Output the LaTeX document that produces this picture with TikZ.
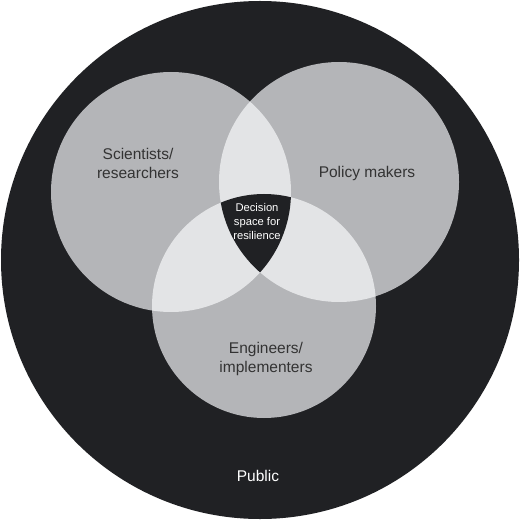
\documentclass[tikz,border=0pt]{standalone}
\usepackage{fontspec}
\setmainfont{Liberation Sans}
\definecolor{bgdark}{HTML}{202124}
\definecolor{ringgray}{HTML}{B4B5B8}
\definecolor{overlapgray}{HTML}{E3E4E6}
\definecolor{labeltext}{HTML}{333333}
\tikzset{
  grouplabel/.style={align=center, text=labeltext, inner sep=0pt, font=\fontsize{15.5}{19}\selectfont},
  corelabel/.style={align=center, text=white, inner sep=0pt, font=\fontsize{11.2}{14}\selectfont},
  publiclabel/.style={align=center, text=white, inner sep=0pt, font=\fontsize{15.5}{19}\selectfont}
}
\begin{document}
\begin{tikzpicture}[x=1pt,y=-1pt]
\useasboundingbox (0,0) rectangle (520,521);
\fill[white] (0,0) rectangle (520,521);
\coordinate (C) at (260,260);
\coordinate (L) at (171,192);
\coordinate (R) at (339,182);
\coordinate (B) at (264,306);
\fill[bgdark] (C) circle (259);
\fill[ringgray] (L) circle (120);
\fill[ringgray] (R) circle (120);
\fill[ringgray] (B) circle (112);
\begin{scope}
  \clip (L) circle (120);
  \fill[overlapgray] (R) circle (120);
  \fill[overlapgray] (B) circle (112);
\end{scope}
\begin{scope}
  \clip (R) circle (120);
  \fill[overlapgray] (B) circle (112);
\end{scope}
\begin{scope}
  \clip (L) circle (120);
  \clip (R) circle (120);
  \fill[bgdark] (B) circle (112);
\end{scope}
\node[grouplabel] (sci) at (138,163) {Scientists/\\researchers};
\node[grouplabel] (pol) at (367,173) {Policy makers};
\node[grouplabel] (eng) at (266,359) {Engineers/\\implementers};
\node[corelabel] (dec) at (257,221) {Decision\\space for\\resilience};
\node[publiclabel] (pub) at (258,476) {Public};
\end{tikzpicture}
\end{document}
